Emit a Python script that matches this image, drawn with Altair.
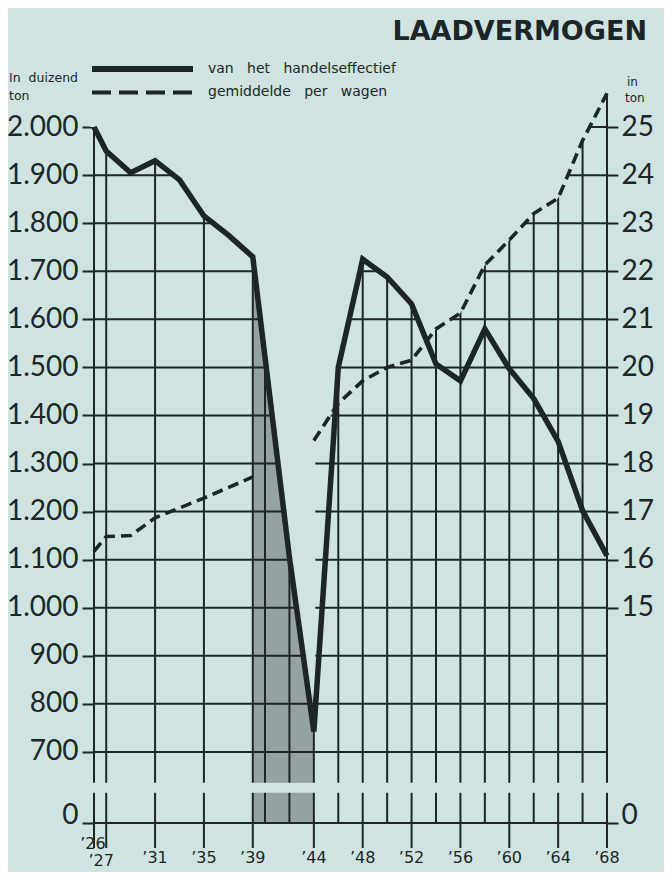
import altair as alt
import pandas as pd
import numpy as np

# ---------------- data ----------------
solid_years = [1926, 1927, 1929, 1931, 1933, 1935, 1937, 1939, 1942, 1944, 1946,
               1948, 1950, 1952, 1954, 1956, 1958, 1960, 1962, 1964, 1966, 1968]
solid_kton = [2000, 1950, 1905, 1930, 1890, 1815, 1775, 1730, 1105, 742, 1500,
              1725, 1688, 1632, 1507, 1472, 1580, 1497, 1435, 1346, 1202, 1108]

wagon_years_pre = [1926, 1927, 1929, 1931, 1935, 1939]
wagon_ton_pre = [16.17, 16.48, 16.5, 16.87, 17.28, 17.72]
wagon_years_post = [1944, 1946, 1948, 1950, 1952, 1954, 1956, 1958, 1960, 1962, 1964, 1966, 1968]
wagon_ton_post = [18.48, 19.25, 19.72, 20.0, 20.15, 20.8, 21.13, 22.13, 22.65, 23.2, 23.52, 24.72, 25.7]

war_start, war_end = 1939, 1944

grid_years = [1926, 1927, 1931, 1935, 1939, 1940, 1942, 1944, 1946, 1948, 1950, 1952,
              1954, 1956, 1958, 1960, 1962, 1964, 1966, 1968]
label_years = [1926, 1927, 1931, 1935, 1939, 1944, 1948, 1952, 1956, 1960, 1964, 1968]
left_ticks = [700, 800, 900, 1000, 1100, 1200, 1300, 1400, 1500, 1600, 1700, 1800, 1900, 2000]
right_ticks = [15, 16, 17, 18, 19, 20, 21, 22, 23, 24, 25]

# broken axis: value 0 is drawn at this position of the (kton) scale
ZERO_POS = 552
BREAK = (615, 636)
Y_DOM = [500, 2100]
X_DOM = [1926, 1968]


def ton_to_pos(t):
    return (t - 5) * 100


BG = "#cfe4e1"
INK = "#1c2626"
SHADE = "#96a1a1"

xsc = alt.Scale(domain=X_DOM, nice=False, zero=False)
ysc = alt.Scale(domain=Y_DOM, nice=False, zero=False)


def X(f):
    return alt.X(f, type="quantitative", scale=xsc, axis=None)


def Y(f):
    return alt.Y(f, type="quantitative", scale=ysc, axis=None)


# ---------------- tables ----------------
solid_df = pd.DataFrame({"year": solid_years, "val": solid_kton})
wagon_df = pd.DataFrame({
    "year": wagon_years_pre + wagon_years_post,
    "val": [ton_to_pos(t) for t in wagon_ton_pre + wagon_ton_post],
    "seg": ["a"] * len(wagon_years_pre) + ["b"] * len(wagon_years_post),
})
war_df = solid_df[(solid_df.year >= war_start) & (solid_df.year <= war_end)]

hgrid_df = pd.DataFrame({"lvl": [ZERO_POS] + left_ticks,
                         "x1": X_DOM[0], "x2": X_DOM[1]})
vgrid_df = pd.DataFrame({
    "year": grid_years,
    "lo": [Y_DOM[0] if y in label_years else ZERO_POS for y in grid_years],
    "hi": Y_DOM[1],
})

# mask covering the grid above the upper envelope of both curves
sx = np.array(solid_years, float)
sy = np.array(solid_kton, float)
segs = [(np.array(wagon_years_pre, float), np.array([ton_to_pos(t) for t in wagon_ton_pre])),
        (np.array(wagon_years_post, float), np.array([ton_to_pos(t) for t in wagon_ton_post]))]


def dash_at(x):
    vals = [np.interp(x, wx, wy) for wx, wy in segs if wx[0] <= x <= wx[-1]]
    return max(vals) if vals else -np.inf


bps = sorted(set(solid_years) | set(wagon_years_pre) | set(wagon_years_post))
extra = []
for wx, wy in segs:
    pts = [b for b in bps if wx[0] <= b <= wx[-1]]
    for a, b in zip(pts[:-1], pts[1:]):
        fa = np.interp(a, sx, sy) - np.interp(a, wx, wy)
        fb = np.interp(b, sx, sy) - np.interp(b, wx, wy)
        if fa * fb < 0:
            extra.append(float(a + (b - a) * fa / (fa - fb)))
JUMP = war_end + 0.12  # the post-war dashed series starts here (keeps the '44 rule hidden)
xs = sorted((set(float(b) for b in bps) | set(extra) | {JUMP}) - {float(war_end)})
mask_pts = []
for x in xs:
    s = float(np.interp(x, sx, sy))
    if x == JUMP:
        mask_pts.append((x, s))
        mask_pts.append((x, float(max(s, dash_at(war_end)))))
        continue
    mask_pts.append((x, float(max(s, dash_at(x)))))
mask_pts = [(X_DOM[0] - 0.3, mask_pts[0][1])] + mask_pts + [(X_DOM[1] + 0.3, mask_pts[-1][1])]
mask_df = pd.DataFrame({"year": [float(p[0]) for p in mask_pts],
                        "val": [float(p[1]) for p in mask_pts],
                        "top": float(Y_DOM[1] + 20)})

break_df = pd.DataFrame({"x1": [X_DOM[0] - 0.3], "x2": [X_DOM[1] + 0.3],
                         "y1": [BREAK[0]], "y2": [BREAK[1]]})

# ---------------- layers ----------------
shade = alt.Chart(war_df).mark_area(color=SHADE, opacity=1).encode(
    x=X("year"), y=Y("val"), y2=alt.datum(ZERO_POS))

hgrid = alt.Chart(hgrid_df).mark_rule(color=INK, strokeWidth=2).encode(
    x=X("x1"), x2="x2", y=Y("lvl"))

vgrid = alt.Chart(vgrid_df).mark_rule(color=INK, strokeWidth=2).encode(
    x=X("year"), y=Y("lo"), y2="hi")

mask = alt.Chart(mask_df).mark_area(color=BG, opacity=1).encode(
    x=X("year"), y=Y("val"), y2="top")

brk = alt.Chart(break_df).mark_rect(color=BG, opacity=1).encode(
    x=X("x1"), x2="x2", y=Y("y1"), y2="y2")

solid = alt.Chart(solid_df).mark_line(color=INK, strokeWidth=5.5, strokeJoin="miter").encode(
    x=X("year"), y=Y("val"))

dashed = alt.Chart(wagon_df).mark_line(color=INK, strokeWidth=3.6, strokeDash=[11, 6]).encode(
    x=X("year"), y=Y("val"), detail="seg:N")

left_axis_df = pd.DataFrame({"v": [ZERO_POS] + left_ticks})
left_axis = alt.Chart(left_axis_df).mark_point(opacity=0).encode(
    y=alt.Y("v:Q", scale=ysc, axis=alt.Axis(
        orient="left", values=[ZERO_POS] + left_ticks, title=None, domain=False, grid=False,
        tickSize=12, tickWidth=2, tickColor=INK, labelColor=INK, labelFont="Lato",
        labelFontSize=28, labelPadding=4, labelOverlap=False, labelBound=False, labelFlush=False,
        labelOffset={"condition": {"test": "datum.value < 600", "value": -8}, "value": 0},
        labelExpr="datum.value < 600 ? '0' : replace(format(datum.value, ','), ',', '.')")))

right_vals = [ZERO_POS] + [ton_to_pos(t) for t in right_ticks]
right_axis_df = pd.DataFrame({"v": right_vals})
right_axis = alt.Chart(right_axis_df).mark_point(opacity=0).encode(
    y=alt.Y("v:Q", scale=ysc, axis=alt.Axis(
        orient="right", values=right_vals, title=None, domain=False, grid=False,
        tickSize=11, tickWidth=2, tickColor=INK, labelColor=INK, labelFont="Lato",
        labelFontSize=28, labelPadding=3, labelOverlap=False, labelBound=False, labelFlush=False,
        labelOffset={"condition": {"test": "datum.value < 600", "value": -8}, "value": 0},
        labelExpr="datum.value < 600 ? '0' : format(datum.value / 100 + 5, 'd')")))

lab_df = pd.DataFrame({"year": label_years, "lab": ["\u2019%02d" % (y % 100) for y in label_years]})
xlab_main = alt.Chart(lab_df[lab_df.year > 1927]).mark_text(
    font="DejaVu Sans", fontSize=16, color=INK, baseline="middle").encode(
    x=X("year"), y=alt.value(779), text="lab:N")
xlab_26 = alt.Chart(lab_df[lab_df.year == 1926]).mark_text(
    font="DejaVu Sans", fontSize=16, color=INK, baseline="middle", dx=-1).encode(
    x=X("year"), y=alt.value(765), text="lab:N")
xlab_27 = alt.Chart(lab_df[lab_df.year == 1927]).mark_text(
    font="DejaVu Sans", fontSize=16, color=INK, baseline="middle", dx=-5).encode(
    x=X("year"), y=alt.value(782), text="lab:N")


def txt(s, x, y, size, align="left", weight="normal", baseline="middle"):
    return alt.Chart(pd.DataFrame({"t": [s]})).mark_text(
        font="DejaVu Sans", fontSize=size, fontWeight=weight, color=INK,
        align=align, baseline=baseline).encode(x=alt.value(x), y=alt.value(y), text="t:N")


NB = "\u00a0"
title = txt("LAADVERMOGEN", 553, -39, 27, align="right", weight="bold", baseline="alphabetic")
leg1 = txt(("van" + NB * 3 + "het" + NB * 3 + "handelseffectief"), 114, -10, 14)
leg2 = txt(("gemiddelde" + NB * 3 + "per" + NB * 3 + "wagen"), 114, 13, 14)
unit_l1 = txt("In" + NB * 2 + "duizend", -85, -1, 12.5)
unit_l2 = txt("ton", -85, 17, 12.5)
unit_r1 = txt("in", 533, 3, 12)
unit_r2 = txt("ton", 531, 19, 12)

sw1 = alt.Chart(pd.DataFrame({"a": [0]})).mark_rule(color=INK, strokeWidth=6).encode(
    x=alt.value(-2), x2=alt.value(99), y=alt.value(-10))
sw2 = alt.Chart(pd.DataFrame({"a": [0]})).mark_rule(color=INK, strokeWidth=4, strokeDash=[19, 8]).encode(
    x=alt.value(-2), x2=alt.value(99), y=alt.value(13.5))

chart = alt.layer(
    shade, hgrid, vgrid, mask, brk, solid, dashed, left_axis, right_axis,
    xlab_main, xlab_26, xlab_27, title, leg1, leg2, unit_l1, unit_l2, unit_r1, unit_r2, sw1, sw2,
).resolve_scale(y="independent").properties(
    width=513, height=769,
    padding={"left": 86, "top": 71, "right": 57, "bottom": 24},
    autosize=alt.AutoSizeParams(type="none"),
).configure(background=BG).configure_view(stroke=None)

chart.save("out.html", embed_options={"renderer": "svg", "actions": False})
